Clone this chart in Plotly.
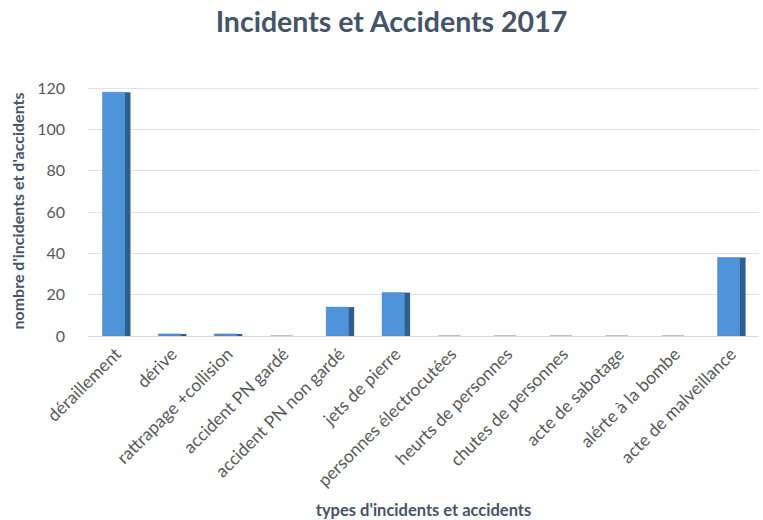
import plotly.graph_objects as go

categories = ["déraillement", "dérive", "rattrapage +collision", "accident PN gardé",
              "accident PN non gardé", "jets de pierre", "personnes électrocutées",
              "heurts de personnes", "chutes de personnes", "acte de sabotage",
              "alérte à la bombe", "acte de malveillance"]
values = [118, 1, 1, 0, 14, 21, 0, 0, 0, 0, 0, 38]
y_ticks = [0, 20, 40, 60, 80, 100, 120]

FONT = "Lato"
fig = go.Figure()
# front face
fig.add_trace(go.Bar(
    x=categories, y=values, width=0.4, offset=-0.24,
    marker=dict(color="#4f93db", line=dict(color="#3f7fc4", width=0.5)),
    hoverinfo="x+y", showlegend=False))
# side face (darker) for a 3D-like look
fig.add_trace(go.Bar(
    x=categories, y=values, width=0.1, offset=0.16,
    marker=dict(color="#2f5f8f", line=dict(width=0)),
    hoverinfo="skip", showlegend=False))

fig.update_layout(
    width=763, height=520,
    margin=dict(l=88, r=4, t=86, b=182),
    paper_bgcolor="white", plot_bgcolor="white",
    barmode="overlay",
    title=dict(text="<b>Incidents et Accidents 2017</b>", x=0.513, xanchor="center",
               y=0.957, yanchor="middle",
               font=dict(family=FONT, size=28.5, color="#44546a")),
    font=dict(family=FONT, color="#595959"),
    xaxis=dict(
        tickangle=-45, tickfont=dict(size=17.5, color="#595959"),
        showgrid=False, showline=True, linecolor="#d9d9d9", ticks="",
        title=dict(text="<b>types d'incidents et accidents</b>",
                   font=dict(size=16.5, color="#44546a"), standoff=14),
        range=[-0.5, len(categories) - 0.5]),
    yaxis=dict(
        range=[0, 121], tickvals=y_ticks, ticktext=[str(v) for v in y_ticks],
        tickfont=dict(size=16, color="#595959"),
        showgrid=True, gridcolor="#dde3ea", gridwidth=1, zeroline=False,
        showline=False, ticks="", ticklabelstandoff=22,
        title=dict(text="<b>nombre d'incidents et d'accidents</b>",
                   font=dict(size=16, color="#44546a"), standoff=8)),
)

fig.write_html("out.html")
